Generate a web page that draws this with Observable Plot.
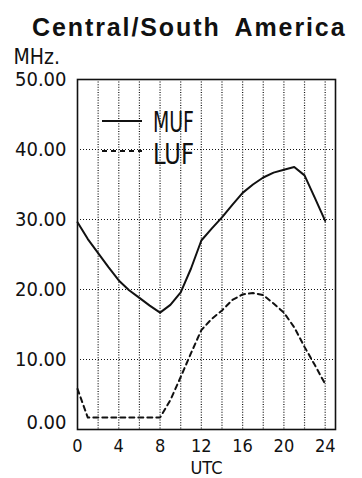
<!DOCTYPE html>
<html>
<head>
<meta charset="utf-8">
<script src="https://cdn.jsdelivr.net/npm/d3@7"></script>
<script src="https://cdn.jsdelivr.net/npm/@observablehq/plot@0.6"></script>
<style>
  html, body { margin: 0; padding: 0; background: #fff; }
  #wrap { position: relative; width: 362px; height: 478px; overflow: hidden; }
  #title { position: absolute; top: 15px; left: 32px; font: bold 25px "Liberation Sans", Arial, sans-serif;
           letter-spacing: 1.9px; word-spacing: 6px; line-height: 25px; white-space: nowrap; color: #111; }
  #chart { position: absolute; top: 40px; left: 0; }
  #legend { position: absolute; top: 0; left: 0; pointer-events: none; }
</style>
</head>
<body>
<div id="wrap">
  <div id="title">Central/South America</div>
  <div id="chart"></div>
</div>
<script>
const titleText = "Central/South America";
const yUnit = "MHz.";
const xLabel = "UTC";
const hours = [0,1,2,3,4,5,6,7,8,9,10,11,12,13,14,15,16,17,18,19,20,21,22,23,24];
const muf = [29.6,27.2,25.2,23.2,21.3,19.9,18.8,17.7,16.7,17.8,19.6,23.0,27.0,28.7,30.3,32.1,33.8,35.0,36.0,36.7,37.1,37.5,36.3,33.1,29.8];
const luf = [5.8,1.7,1.7,1.7,1.7,1.7,1.7,1.7,1.7,4.2,7.5,10.9,14.2,15.8,17.0,18.5,19.3,19.5,19.2,18.0,16.7,14.6,11.8,9.2,6.5];
const seriesNames = ["MUF","LUF"];
const xTicks = [0,4,8,12,16,20,24];
const yTicks = [0,10,20,30,40,50];
const xGrid = [2,4,6,8,10,12,14,16,18,20,22,24];
const yGrid = [10,20,30,40];

const data = hours.map((h,i) => ({h, muf: muf[i], luf: luf[i]}));
const narrow = '"Liberation Sans Narrow", "DejaVu Sans Condensed", "Arial Narrow", sans-serif';

const plot = Plot.plot({
  width: 362,
  height: 438,
  marginLeft: 77,
  marginRight: 27,
  marginTop: 39,
  marginBottom: 49,
  style: {fontFamily: narrow, fontSize: "20px", color: "#111", background: "transparent"},
  x: {domain: [0, 25]},
  y: {domain: [0, 50]},
  marks: [
    Plot.gridX(xGrid, {stroke: "#111", strokeOpacity: 1, strokeWidth: 1.2, strokeDasharray: "1,1.6"}),
    Plot.gridY(yGrid, {stroke: "#111", strokeOpacity: 1, strokeWidth: 1.2, strokeDasharray: "1,2"}),
    Plot.frame({stroke: "#111", strokeWidth: 1.6}),
    Plot.axisY(yTicks.filter(d => d !== 0), {tickSize: 0, tickPadding: 11, tickFormat: d => d.toFixed(2), label: null}),
    Plot.axisY(yTicks.filter(d => d === 0), {tickSize: 0, tickPadding: 11, dy: -7, tickFormat: d => d.toFixed(2), label: null}),
    Plot.axisX(xTicks, {tickSize: 0, tickPadding: 10, label: null, fontSize: 18}),
    Plot.line(data, {x: "h", y: "muf", stroke: "#111", strokeWidth: 2}),
    Plot.line(data, {x: "h", y: "luf", stroke: "#111", strokeWidth: 2, strokeDasharray: "5,4"}),
    Plot.text([yUnit], {text: d => d, frameAnchor: "top-left", dx: -64, dy: -16, textAnchor: "start", lineAnchor: "bottom", fontSize: 21}),
    Plot.text([xLabel], {text: d => d, frameAnchor: "bottom", dy: 44, lineAnchor: "bottom", fontSize: 18})
  ]
});
document.getElementById("chart").appendChild(plot);
document.getElementById("title").textContent = titleText;

// legend overlay (page coordinates)
const lg = d3.select("#wrap").append("svg").attr("id", "legend").attr("width", 362).attr("height", 478);
const rows = seriesNames.map((name, i) => ({name, dash: i === 0 ? null : "5,4", y: 121 + i * 30}));
const g = lg.selectAll("g").data(rows).join("g");
g.append("line").attr("x1", 102).attr("x2", 142).attr("y1", d => d.y).attr("y2", d => d.y)
  .attr("stroke", "#111").attr("stroke-width", 2).attr("stroke-dasharray", d => d.dash);
g.append("text").attr("x", 153).attr("y", d => d.y + 11 + (d.name === "LUF" ? 2 : 0))
  .attr("font-family", narrow).attr("font-size", 28).attr("fill", "#111")
  .attr("textLength", 41).attr("lengthAdjust", "spacingAndGlyphs").text(d => d.name);
</script>
</body>
</html>
